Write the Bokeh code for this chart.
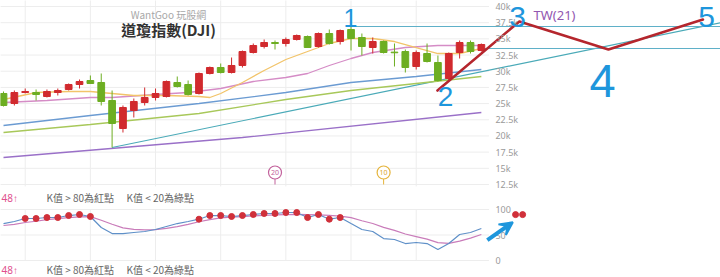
from bokeh.plotting import figure
from bokeh.models import Range1d, Arrow, VeeHead, Label
from bokeh.core.properties import value
from bokeh.embed import file_html
from bokeh.resources import INLINE

# ---------------- data ----------------
opens  = [26559, 25014, 26713, 26713, 26095, 26713, 27177, 27949, 28567, 28258,
          25477, 21151, 23932, 25168, 25941, 26095, 28258, 27949, 26559, 29649,
          30575, 29803, 30885, 32893, 33820, 34438, 34283, 34901, 35365, 33820,
          35828, 34592, 36446, 35210, 33665, 34592, 32950, 33047, 30730, 32738,
          31348, 28876, 32893, 34438, 33202]
highs  = [26868, 27022, 27331, 27177, 27177, 27331, 28104, 28722, 29340, 29649,
          27022, 24705, 25786, 27486, 27331, 28567, 29185, 28567, 29803, 30730,
          31193, 32120, 33202, 34283, 34901, 34747, 35210, 35674, 35519, 35983,
          36446, 36446, 36910, 35828, 35210, 34747, 34283, 33356, 33202, 34283,
          32429, 32893, 34747, 34747, 34283]
lows   = [24550, 24705, 26559, 25477, 25941, 26250, 27022, 27331, 28050, 24705,
          18215, 20533, 22851, 24705, 25477, 25941, 27486, 26250, 26404, 29500,
          29649, 29649, 30575, 32738, 33511, 33356, 33820, 34747, 33600, 33665,
          34129, 34129, 33202, 32429, 32738, 32738, 30730, 29803, 30266, 31348,
          28413, 28567, 31966, 32738, 33047]
closes = [24705, 26713, 26868, 26404, 26868, 27022, 27949, 28413, 28104, 25323,
          21924, 24396, 25323, 25941, 26559, 28413, 27640, 26404, 29649, 30575,
          29803, 30885, 33047, 33974, 34438, 34283, 34901, 35519, 33665, 35828,
          34283, 36292, 35056, 33820, 34592, 32893, 32850, 30575, 32893, 31502,
          28567, 32738, 34438, 33047, 34129]

ma_yellow_x = [0, 3, 6, 8, 10, 12, 15, 18, 19, 20, 22, 24, 26, 28, 30, 32, 34, 36, 38, 40, 42, 44]
ma_yellow_y = [25632, 26713, 26868, 26868, 26559, 26250, 26250, 26095, 25941, 26559, 28258,
               30112, 31811, 33047, 34283, 35056, 35056, 34592, 33665, 32738, 32738, 33511]
ma_pink_x = [0, 4, 8, 10, 14, 17, 20, 23, 26, 28, 30, 32, 34, 37, 40, 44]
ma_pink_y = [25168, 25477, 25941, 25941, 26404, 26713, 27331, 28413, 29030, 29649, 30885,
             31966, 32893, 33665, 33974, 33974]
ma_blue_x = [0, 8, 18, 26, 32, 38, 44]
ma_blue_y = [21614, 23160, 25014, 26713, 28258, 29185, 30266]
ma_green_x = [0, 8, 18, 26, 32, 38, 44]
ma_green_y = [20533, 21769, 23468, 25632, 27022, 28104, 29185]
ma_purple_x = [0, 22, 44]
ma_purple_y = [16670, 19760, 23623]

trend_x = [10, 66.3]
trend_y = [18215, 37580]
level_top_x = [32, 67]
level_top_y = [36910, 36910]
level_mid_x = [44, 67]
level_mid_y = [33511, 33511]
wave_x = [39.96, 47.5, 55.7, 64.4]
wave_y = [27022, 37683, 33356, 37992]

k_vals = [72.5, 76.5, 82.4, 82.4, 84.3, 84.3, 88.2, 90.2, 86.3, 64.7,
          52.9, 52.9, 54.9, 56.9, 60.8, 66.7, 72.5, 76.5, 81.0, 88.2,
          88.2, 86.3, 88.2, 90.2, 92.2, 92.2, 94.1, 94.1, 84.3, 90.2,
          81.0, 84.3, 72.5, 60.8, 56.9, 43.1, 41.2, 33.3, 35.3, 33.3,
          21.6, 33.3, 51.0, 54.9, 62.7]
d_vals = [68.6, 71.0, 74.5, 77.0, 80.0, 82.0, 84.0, 85.5, 86.0, 79.0,
          71.0, 64.0, 61.0, 60.0, 60.5, 63.0, 66.5, 71.0, 76.0, 80.0,
          83.5, 85.0, 86.0, 87.5, 88.5, 89.5, 90.0, 90.5, 90.0, 89.5,
          88.5, 87.0, 84.0, 78.0, 72.5, 65.0, 59.0, 52.0, 47.0, 42.0,
          35.0, 33.5, 38.0, 44.0, 51.0]
extra_dots_x = [47.15, 47.8]
extra_dots_k = [90.0, 90.0]

price_ticks = [12500, 15000, 17500, 20000, 22500, 25000, 27500, 30000, 32500, 35000, 37500, 40000]
price_tick_labels = ["12.5k", "15k", "17.5k", "20k", "22.5k", "25k", "27.5k", "30k",
                     "32.5k", "35k", "37.5k", "40k"]
kd_ticks = [0, 50, 100]
kd_tick_labels = ["0", "50", "100"]
grid_idx = [2, 8, 14, 20, 26, 32, 38]
marker_idx = [25, 35]
marker_text = ["20", "10"]

# ---------------- figure ----------------
W, H = 720, 277
p = figure(width=W, height=H, output_backend="svg", toolbar_location=None,
           x_range=Range1d(-0.276, 66.02), y_range=Range1d(-1869, 40927),
           x_axis_type=None, y_axis_type=None, min_border=0, title=None,
           outline_line_color=None, background_fill_color="white",
           border_fill_color="white")
p.extra_y_ranges = {"kd": Range1d(-33.3, 509.8)}

GRID = "#ededed"
n = len(opens)
idx = list(range(n))
right_edge = 44.7

# grid lines
p.segment(x0=[-0.3] * len(price_ticks), x1=[right_edge] * len(price_ticks),
          y0=price_ticks, y1=price_ticks, line_color=GRID, line_width=1)
p.segment(x0=grid_idx, x1=grid_idx, y0=[price_ticks[0] - 300] * len(grid_idx),
          y1=[41000] * len(grid_idx), line_color=GRID, line_width=1)
p.segment(x0=[-0.3] * len(kd_ticks), x1=[right_edge] * len(kd_ticks),
          y0=kd_ticks, y1=kd_ticks, line_color=GRID, line_width=1, y_range_name="kd")
p.segment(x0=grid_idx, x1=grid_idx, y0=[kd_ticks[0]] * len(grid_idx),
          y1=[kd_ticks[-1]] * len(grid_idx), line_color=GRID, line_width=1, y_range_name="kd")

# moving averages / long lines
p.line(ma_purple_x, ma_purple_y, line_color="#9a70c8", line_width=1.3)
p.line(trend_x, trend_y, line_color="#4aaab8", line_width=1.2)
p.line(ma_green_x, ma_green_y, line_color="#a8c85a", line_width=1.3)
p.line(ma_blue_x, ma_blue_y, line_color="#6b9bd2", line_width=1.3)
p.line(ma_pink_x, ma_pink_y, line_color="#d58cc6", line_width=1.3)
p.line(ma_yellow_x, ma_yellow_y, line_color="#f2c46a", line_width=1.3)
p.line(level_top_x, level_top_y, line_color="#5fb0c8", line_width=1.2)
p.line(level_mid_x, level_mid_y, line_color="#5fb0c8", line_width=1.2)

# candles
RED, GREEN = "#d12a2e", "#6dae22"
cols = [RED if c >= o else GREEN for o, c in zip(opens, closes)]
tops = [max(o, c) for o, c in zip(opens, closes)]
bots = [min(o, c) for o, c in zip(opens, closes)]
p.segment(x0=idx, x1=idx, y0=lows, y1=highs, line_color=cols, line_width=1)
p.vbar(x=idx, width=0.62, top=tops, bottom=bots, fill_color=cols, line_color=cols, line_width=1)

# hand-drawn wave
p.line(wave_x, wave_y, line_color="#b5262d", line_width=2.6, line_join="round", line_cap="round")

# markers 20 / 10 on the bottom of the price panel
p.segment(x0=marker_idx, x1=marker_idx, y0=[price_ticks[0]] * 2, y1=[13400] * 2,
          line_color=["#c2629c", "#e5b43c"], line_width=1)
p.scatter(marker_idx, [14350] * 2, size=13, marker="circle", fill_color="white",
          line_color=["#c2629c", "#e5b43c"], line_width=1.2)
p.text(marker_idx, [14350] * 2, text=marker_text, text_font=value("Noto Sans"),
       text_font_size="7px", text_color=["#c2629c", "#d9a62c"],
       text_align="center", text_baseline="middle")

# tick labels
p.text(x=[45.3] * len(price_ticks), y=price_ticks, text=price_tick_labels,
       text_font=value("Noto Sans"), text_font_size="9px", text_color="#9a9a9a",
       text_align="left", text_baseline="middle")
p.text(x=[45.3] * len(kd_ticks), y=kd_ticks, text=kd_tick_labels, y_range_name="kd",
       text_font=value("Noto Sans"), text_font_size="9px", text_color="#9a9a9a",
       text_align="left", text_baseline="middle")

# KD panel
p.line(idx, d_vals, line_color="#c97cba", line_width=1.2, y_range_name="kd")
p.line(idx, k_vals, line_color="#5f90c8", line_width=1.2, y_range_name="kd")
dot_x = [i for i, k in enumerate(k_vals) if k > 80]
dot_y = [k for k in k_vals if k > 80]
p.scatter(dot_x, dot_y, size=6, marker="circle", fill_color="#d0303a",
          line_color="#d0303a", y_range_name="kd")
p.scatter(extra_dots_x, extra_dots_k, size=6, marker="circle", fill_color="#d0303a",
          line_color="#d0303a", y_range_name="kd")
p.add_layout(Arrow(x_start=44.55, y_start=40, x_end=46.9, y_end=75, y_range_name="kd",
                   line_color="#1e96dc", line_width=4,
                   end=VeeHead(size=13, line_color="#1e96dc", fill_color="#1e96dc", line_width=2)))


def lab(x, y, text, size, color, font="Noto Sans CJK TC", style="normal", align="center",
        baseline="middle"):
    p.add_layout(Label(x=x, y=H - y, x_units="screen", y_units="screen", text=text,
                       text_font=font, text_font_size=size, text_color=color,
                       text_font_style=style, text_align=align, text_baseline=baseline))


lab(168, 14, "WantGoo 玩股網", "10px", "#a8a8a8")
lab(168, 29, "道瓊指數(DJI)", "15px", "#333333", style="bold")
lab(533, 14, "TW(21)", "13px", "#9257b0", font="Noto Sans", align="left")
for yy in (197, 269):
    lab(1, yy, "48↑", "10px", "#e0508e", font="Noto Sans", align="left")
    lab(46, yy, "K值 > 80為紅點", "10px", "#666666", align="left")
    lab(126, yy, "K值 < 20為綠點", "10px", "#666666", align="left")

# hand-written wave numbers
HB = "#1e96dc"
HF = "Liberation Sans"
lab(350, 17, "1", "25px", HB, font=HF, baseline="alphabetic")
lab(445, 96, "2", "28px", HB, font=HF, baseline="alphabetic")
lab(517, 16, "3", "30px", HB, font=HF, baseline="alphabetic")
lab(602, 80, "4", "47px", HB, font=HF, baseline="alphabetic")
lab(706, 16, "5", "30px", HB, font=HF, baseline="alphabetic")

open("out.html", "w").write(file_html(p, INLINE))
